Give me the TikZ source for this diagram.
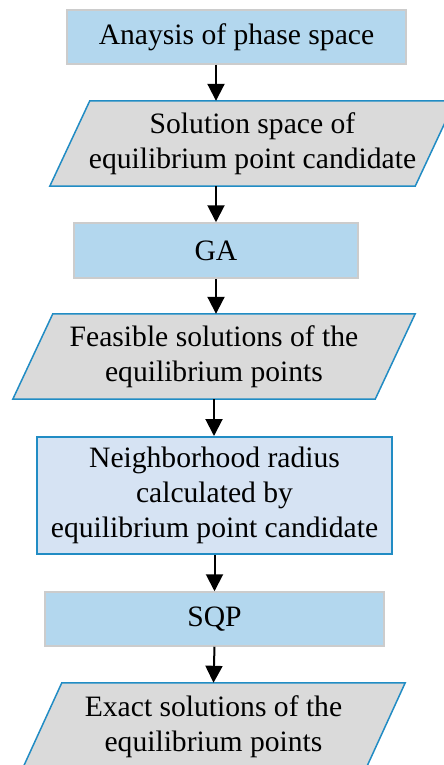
\documentclass[tikz,border=0pt]{standalone}
\usepackage{fontspec}
\setmainfont{Liberation Serif}
\newfontfamily\flowserif{Liberation Serif}
\usetikzlibrary{arrows.meta,calc,backgrounds}
\definecolor{procblue}{RGB}{179,215,238}
\definecolor{procedge}{RGB}{204,204,204}
\definecolor{datagray}{RGB}{218,218,218}
\definecolor{dataedge}{RGB}{33,140,196}
\definecolor{calcblue}{RGB}{214,227,243}
\newcommand{\flowfont}{\flowserif\fontsize{29.6}{35}\selectfont}
\newcommand{\dataslant}[1]{%
  \begin{scope}[on background layer]
    \filldraw[fill=datagray,draw=dataedge,line width=1.5pt]
      ($(#1.south west)+(-20,0)$) -- ($(#1.south east)+(-20,0)$)
      -- ($(#1.north east)+(20,0)$) -- ($(#1.north west)+(20,0)$) -- cycle;
  \end{scope}%
}
\tikzset{
  procbox/.style={rectangle,draw=procedge,fill=procblue,line width=1.5pt,inner sep=0pt,align=center,font=\flowfont},
  databox/.style={rectangle,inner sep=0pt,align=center,font=\flowfont},
  flowarrow/.style={line width=2pt,-{Triangle[length=17pt,width=17pt]}}
}

\begin{document}
\begin{tikzpicture}[x=1pt,y=-1pt]
  \useasboundingbox (0,0) rectangle (444,765);
  \node[procbox,minimum width=339pt,minimum height=54pt] (b1) at (236.5,37) {Anaysis of phase space};
  \node[databox,minimum width=365pt,minimum height=85pt] (p2) at (252.5,143.5) {Solution space of\\equilibrium point candidate};
  \dataslant{p2}
  \node[procbox,minimum width=284pt,minimum height=55pt] (ga) at (216,250.5) {GA};
  \node[databox,minimum width=362pt,minimum height=85pt] (p4) at (214,356.5) {Feasible solutions of the\\equilibrium points};
  \dataslant{p4}
  \node[procbox,fill=calcblue,draw=dataedge,line width=2pt,minimum width=355pt,minimum height=117pt] (b5) at (214.5,495.5) {Neighborhood radius\\calculated by\\equilibrium point candidate};
  \node[procbox,minimum width=339pt,minimum height=54pt] (sqp) at (214.5,619) {SQP};
  \node[databox,minimum width=343pt,minimum height=87pt] (p7) at (213.5,726.5) {Exact solutions of the\\equilibrium points};
  \dataslant{p7}
  % arrows
  \draw[flowarrow] (b1.south -| ga.north) -- (p2.north -| ga.north);
  \draw[flowarrow] (p2.south -| ga.north) -- (ga.north);
  \draw[flowarrow] (ga.south) -- (p4.north -| ga.south);
  \draw[flowarrow] (p4.south) -- (b5.north -| p4.south);
  \draw[flowarrow] (b5.south) -- (sqp.north);
  \draw[flowarrow] (sqp.south) -- (p7.north);
\end{tikzpicture}
\end{document}
